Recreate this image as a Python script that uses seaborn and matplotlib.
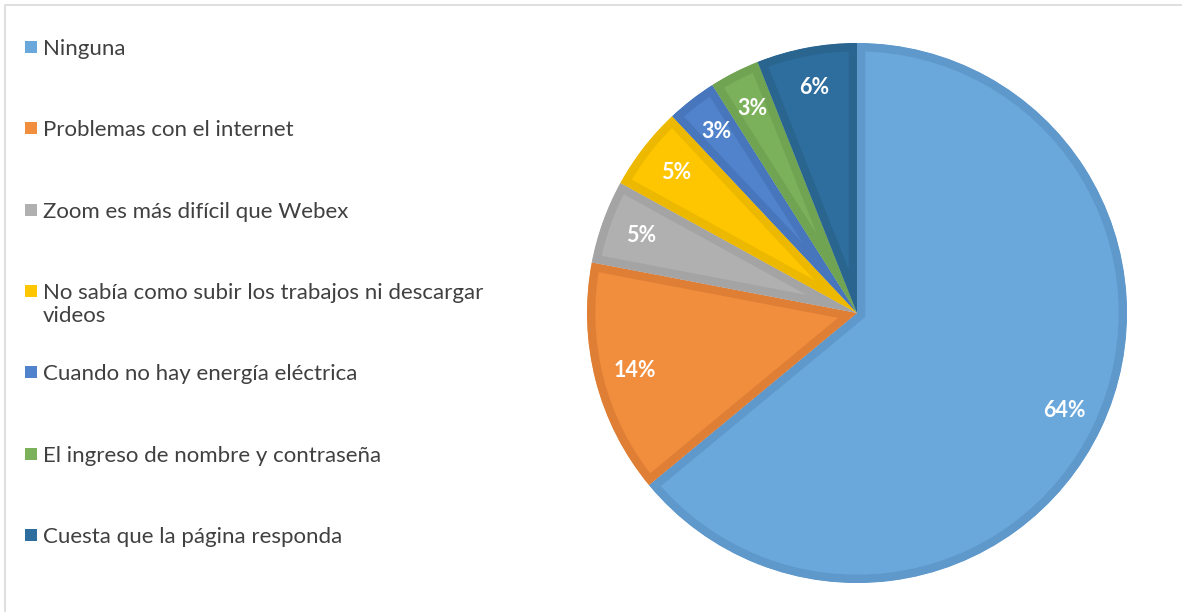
import matplotlib
matplotlib.use('Agg')
import matplotlib.pyplot as plt
from matplotlib.patches import Rectangle
from matplotlib.lines import Line2D
import seaborn as sns

categories = ['Ninguna', 'Problemas con el internet', 'Zoom es más difícil que Webex',
              'No sabía como subir los trabajos ni descargar\nvideos',
              'Cuando no hay energía eléctrica', 'El ingreso de nombre y contraseña',
              'Cuesta que la página responda']
values = [64, 14, 5, 5, 3, 3, 6]
fill_colors = ['#6AA8DC', '#F08E3D', '#B0B0B0', '#FDC600', '#5083CB', '#7BB15A', '#2E6E9E']
edge_colors = ['#5F98CA', '#DF7E35', '#A4A4A4', '#EDB800', '#4876BC', '#70A452', '#2A6590']

sns.set_theme(style='white')
plt.rcParams['font.family'] = ['Lato', 'DejaVu Sans']

W, H = 1182, 612
fig = plt.figure(figsize=(W / 100, H / 100), dpi=100)
fig.patch.set_facecolor('white')

# pie axes, square in pixels
cx, cy, r = 857, 313, 270
ax = fig.add_axes([(cx - r) / W, (H - cy - r) / H, 2 * r / W, 2 * r / H])
wedges, texts, autotexts = ax.pie(
    values, colors=fill_colors, startangle=90, counterclock=False,
    autopct=lambda p: f'{p:.0f}%', pctdistance=0.85, radius=1,
    wedgeprops=dict(linewidth=0))
for w, ec in zip(wedges, edge_colors):
    w.set_edgecolor(ec)
    w.set_linewidth(12)
    w.set_clip_on(True)
    w.set_clip_box(None)
    w.set_clip_path(w)  # keep the darker rim inside each slice
for t in autotexts:
    t.set_color('white')
    t.set_fontsize(15.5)
    t.set_fontweight('bold')
ax.set_xlim(-1.0, 1.0)
ax.set_ylim(-1.0, 1.0)
ax.axis('off')

# legend drawn by hand on the left
y0, step = 47, 81.3
for i, (lab, col) in enumerate(zip(categories, fill_colors)):
    y = y0 + step * i
    fig.patches.append(Rectangle((25 / W, (H - y - 6) / H), 12 / W, 12 / H,
                                 transform=fig.transFigure, facecolor=col,
                                 edgecolor='none'))
    fig.text(43 / W, (H - y + 8) / H, lab, fontsize=16, color='#404040',
             va='top', ha='left', linespacing=1.2)

# light frame on top and left
fig.lines.append(Line2D([4.5 / W, 4.5 / W, 1], [0, 1 - 4.5 / H, 1 - 4.5 / H],
                        transform=fig.transFigure, color='#D9D9D9', linewidth=1.2))

fig.savefig('out.png', dpi=100, facecolor='white')
